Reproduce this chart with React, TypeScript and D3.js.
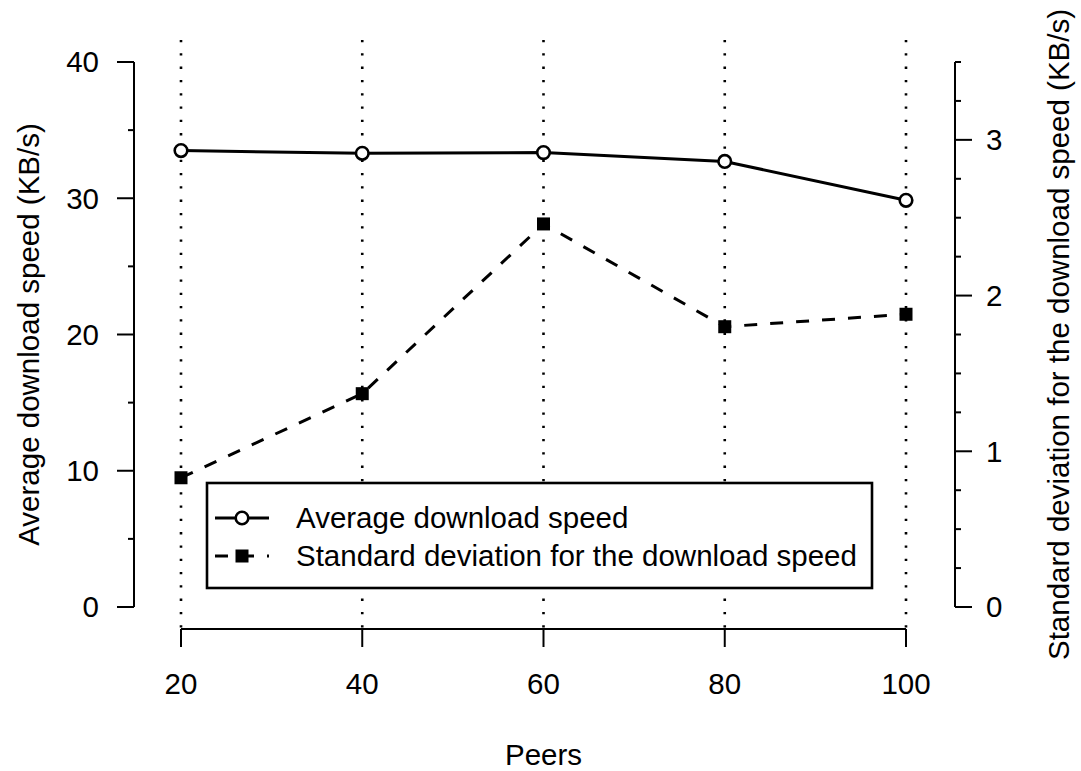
import React from "react";
import * as d3 from "d3";

const peers = [20, 40, 60, 80, 100];
const avgSpeed = [33.5, 33.3, 33.35, 32.7, 29.85];
const sdSpeed = [0.83, 1.37, 2.46, 1.8, 1.88];
const leftTicks = [0, 5, 10, 15, 20, 25, 30, 35, 40];
const leftLabels = [0, 10, 20, 30, 40];
const rightTicks = [0, 0.25, 0.5, 0.75, 1, 1.25, 1.5, 1.75, 2, 2.25, 2.5, 2.75, 3, 3.25, 3.5];
const rightLabels = [0, 1, 2, 3];
const legendLabels = ["Average download speed", "Standard deviation for the download speed"];

const W = 1081;
const H = 771;
const plotTop = 40;
const plotBottom = 629;
const leftAxisX = 134;
const rightAxisX = 955;
const FONT = "'Liberation Sans', Arial, Helvetica, sans-serif";
const FS = 29.5;

export default function App() {
  const x = d3.scaleLinear().domain([20, 100]).range([181, 906]);
  const yL = d3.scaleLinear().domain([0, 40]).range([607, 62]);
  const yR = d3.scaleLinear().domain([0, 3.5]).range([607, 62]);

  const avgLine = d3
    .line<number>()
    .x((_, i) => x(peers[i]))
    .y((d) => yL(d));
  const sdLine = d3
    .line<number>()
    .x((_, i) => x(peers[i]))
    .y((d) => yR(d));

  const sq = 13;

  return (
    <svg
      width={W}
      height={H}
      viewBox={`0 0 ${W} ${H}`}
      style={{ position: "absolute", left: 0, top: 0, background: "#fff" }}
      fontFamily={FONT}
    >
      <rect x={0} y={0} width={W} height={H} fill="#fff" />

      {/* dotted vertical grid lines */}
      {peers.map((p) => (
        <line
          key={"g" + p}
          x1={x(p)}
          x2={x(p)}
          y1={plotTop}
          y2={plotBottom}
          stroke="#000"
          strokeWidth={2.6}
          strokeDasharray="2.3 11"
        />
      ))}

      {/* average line */}
      <path d={avgLine(avgSpeed) || ""} fill="none" stroke="#000" strokeWidth={3} />
      {avgSpeed.map((v, i) => (
        <circle key={"c" + i} cx={x(peers[i])} cy={yL(v)} r={6.3} fill="#fff" stroke="#000" strokeWidth={2.6} />
      ))}

      {/* sd dashed line */}
      <path d={sdLine(sdSpeed) || ""} fill="none" stroke="#000" strokeWidth={3} strokeDasharray="13 13" />
      {sdSpeed.map((v, i) => (
        <rect key={"s" + i} x={x(peers[i]) - sq / 2} y={yR(v) - sq / 2} width={sq} height={sq} fill="#000" />
      ))}

      {/* left axis */}
      <line x1={leftAxisX} x2={leftAxisX} y1={yL(0)} y2={yL(40)} stroke="#000" strokeWidth={2} />
      {leftTicks.map((t) => (
        <line
          key={"lt" + t}
          x1={leftAxisX - (t % 10 === 0 ? 17 : 6)}
          x2={leftAxisX}
          y1={yL(t)}
          y2={yL(t)}
          stroke="#000"
          strokeWidth={2}
        />
      ))}
      {leftLabels.map((t) => (
        <text key={"ll" + t} x={99} y={yL(t)} dy="0.35em" textAnchor="end" fontSize={FS} fill="#000">
          {t}
        </text>
      ))}

      {/* right axis */}
      <line x1={rightAxisX} x2={rightAxisX} y1={yR(0)} y2={yR(3.5)} stroke="#000" strokeWidth={2} />
      {rightTicks.map((t) => (
        <line
          key={"rt" + t}
          x1={rightAxisX}
          x2={rightAxisX + (Number.isInteger(t) ? 17 : 6)}
          y1={yR(t)}
          y2={yR(t)}
          stroke="#000"
          strokeWidth={2}
        />
      ))}
      {rightLabels.map((t) => (
        <text key={"rl" + t} x={986} y={yR(t)} dy="0.35em" textAnchor="start" fontSize={FS} fill="#000">
          {t}
        </text>
      ))}

      {/* x axis */}
      <line x1={x(20)} x2={x(100)} y1={plotBottom} y2={plotBottom} stroke="#000" strokeWidth={2} />
      {peers.map((p) => (
        <line key={"xt" + p} x1={x(p)} x2={x(p)} y1={plotBottom} y2={plotBottom + 18} stroke="#000" strokeWidth={2} />
      ))}
      {peers.map((p) => (
        <text key={"xl" + p} x={x(p)} y={684} dy="0.35em" textAnchor="middle" fontSize={FS} fill="#000">
          {p}
        </text>
      ))}

      {/* axis titles */}
      <text x={(x(20) + x(100)) / 2} y={755} dy="0.35em" textAnchor="middle" fontSize={FS} fill="#000">
        Peers
      </text>
      <text
        transform={`translate(29, ${(plotTop + plotBottom) / 2}) rotate(-90)`}
        dy="0.35em"
        textAnchor="middle"
        fontSize={FS}
        fill="#000"
      >
        Average download speed (KB/s)
      </text>
      <text
        transform={`translate(1059, ${(plotTop + plotBottom) / 2}) rotate(-90)`}
        dy="0.35em"
        textAnchor="middle"
        fontSize={FS}
        fill="#000"
      >
        Standard deviation for the download speed (KB/s)
      </text>

      {/* legend */}
      <rect x={207} y={483} width={665} height={105} fill="#fff" stroke="#000" strokeWidth={2.6} />
      <line x1={215} x2={269} y1={518} y2={518} stroke="#000" strokeWidth={3} />
      <circle cx={242} cy={518} r={6.3} fill="#fff" stroke="#000" strokeWidth={2.6} />
      <line x1={215} x2={269} y1={556} y2={556} stroke="#000" strokeWidth={3} strokeDasharray="13 13" />
      <rect x={242 - sq / 2} y={556 - sq / 2} width={sq} height={sq} fill="#000" />
      {legendLabels.map((l, i) => (
        <text key={"lg" + i} x={296} y={518 + i * 38} dy="0.35em" fontSize={FS} fill="#000">
          {l}
        </text>
      ))}
    </svg>
  );
}
